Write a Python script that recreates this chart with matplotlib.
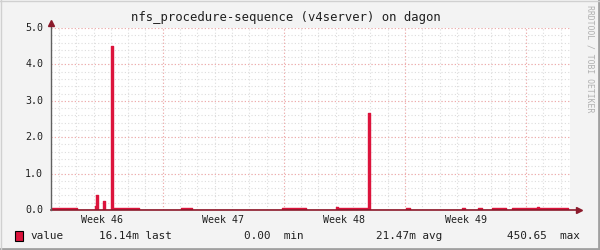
import numpy as np
import matplotlib
matplotlib.use("Agg")
import matplotlib.pyplot as plt
from matplotlib.lines import Line2D
from matplotlib.patches import Rectangle

# step series, x in days from the left edge of the graph
t = [0.00, 1.53, 2.55, 2.62, 2.74, 3.01, 3.13, 3.49, 3.61, 5.12, 7.53, 8.16,
     13.38, 14.75, 16.50, 16.62, 18.37, 18.49, 20.53, 20.78, 23.77, 23.96,
     24.69, 24.92, 25.50, 26.31, 26.66, 28.14, 28.22, 29.93, 30.00]
v = [0.05, 0.00, 0.10, 0.41, 0.00, 0.25, 0.00, 4.50, 0.05, 0.00, 0.05, 0.00,
     0.05, 0.00, 0.08, 0.05, 2.66, 0.00, 0.05, 0.00, 0.05, 0.00,
     0.05, 0.00, 0.05, 0.00, 0.05, 0.08, 0.05, 0.00, 0.00]

week_lines = [6.49, 13.49, 20.49, 27.49]
week_labels = ["Week 46", "Week 47", "Week 48", "Week 49"]
week_label_pos = [2.97, 9.97, 16.99, 23.99]
yticks = [0.0, 1.0, 2.0, 3.0, 4.0, 5.0]
legend_cols = ["value", "16.14m last", "0.00  min", "21.47m avg", "450.65  max"]

RED = "#dc143c"
AXIS_RED = "#8b1a2b"
MONO = "DejaVu Sans Mono"

fig = plt.figure(figsize=(6, 2.5), dpi=100, facecolor="#f3f3f3")
ax = fig.add_axes([50.5 / 600, 40 / 250, 519 / 600, 182 / 250])
ax.set_facecolor("white")
ax.set_xlim(0, 30)
ax.set_ylim(0, 5.0)

# minor grid (every day, every 0.2)
for d in np.arange(0.49, 30, 1.0):
    ax.axvline(d, color="#dddddd", lw=0.8, ls=(0, (1, 2)), zorder=1)
for y in np.arange(0.2, 5.01, 0.2):
    ax.axhline(y, color="#dddddd", lw=0.8, ls=(0, (1, 2)), zorder=1)
# major grid
for d in week_lines:
    ax.axvline(d, color="#f4a8a8", lw=0.8, ls=(0, (1, 2)), zorder=2)
for y in yticks[1:]:
    ax.axhline(y, color="#f4a8a8", lw=0.8, ls=(0, (1, 2)), zorder=2)

ax.fill_between(t, v, 0, step="post", color=RED, lw=0, zorder=3)
ax.step(t, v, where="post", color=RED, lw=1.0, zorder=3)

for s in ax.spines.values():
    s.set_visible(False)
ax.set_xticks([])
ax.set_yticks([])

# axes lines with arrows
ax.add_line(Line2D([0, 30.5], [0, 0], color=AXIS_RED, lw=1.2, clip_on=False, zorder=5))
ax.add_line(Line2D([0, 0], [0, 5.1], color="#606060", lw=1.0, clip_on=False, zorder=5))
ax.plot([30.55], [0], marker=">", color=AXIS_RED, ms=5, clip_on=False, zorder=6)
ax.plot([0], [5.15], marker="^", color=AXIS_RED, ms=5, clip_on=False, zorder=6)

for y in yticks:
    ax.text(-0.42, y, "%.1f" % y, ha="right", va="center", fontsize=7.2,
            family=MONO, color="#202020")
for x, lab in zip(week_label_pos, week_labels):
    ax.text(x, -0.28, lab, ha="center", va="center", fontsize=7.2,
            family=MONO, color="#202020")

fig.text(286 / 600, 1 - 18 / 250, "nfs_procedure-sequence (v4server) on dagon",
         ha="center", va="center", fontsize=8.8, family=MONO, color="#202020")
fig.text(590 / 600, 1 - 5 / 250, "RRDTOOL / TOBI OETIKER", rotation=270,
         ha="center", va="top", fontsize=5.9, family=MONO, color="#b0b0b0")

# legend row
fig.patches.append(Rectangle((15 / 600, 1 - 241 / 250), 8 / 600, 10 / 250,
                             transform=fig.transFigure, facecolor=RED,
                             edgecolor="black", lw=0.8))
ly = 1 - 236 / 250
fig.text(30.5 / 600, ly, legend_cols[0], va="center", fontsize=7.9, family=MONO, color="#202020")
fig.text(99 / 600, ly, legend_cols[1], va="center", fontsize=7.9, family=MONO, color="#202020")
fig.text(244 / 600, ly, legend_cols[2], va="center", fontsize=7.9, family=MONO, color="#202020")
fig.text(376 / 600, ly, legend_cols[3], va="center", fontsize=7.9, family=MONO, color="#202020")
fig.text(507 / 600, ly, legend_cols[4], va="center", fontsize=7.9, family=MONO, color="#202020")

# 3d frame around the image
fig.add_artist(Line2D([0, 1], [1 / 250, 1 / 250], color="#a0a0a0", lw=2, transform=fig.transFigure))
fig.add_artist(Line2D([1 - 1 / 600, 1 - 1 / 600], [0, 1], color="#a0a0a0", lw=2, transform=fig.transFigure))
fig.add_artist(Line2D([0, 1], [1 - 0.5 / 250, 1 - 0.5 / 250], color="#d0d0d0", lw=1, transform=fig.transFigure))
fig.add_artist(Line2D([0.5 / 600, 0.5 / 600], [0, 1], color="#d0d0d0", lw=1, transform=fig.transFigure))

fig.savefig("out.png", dpi=100, facecolor=fig.get_facecolor())
